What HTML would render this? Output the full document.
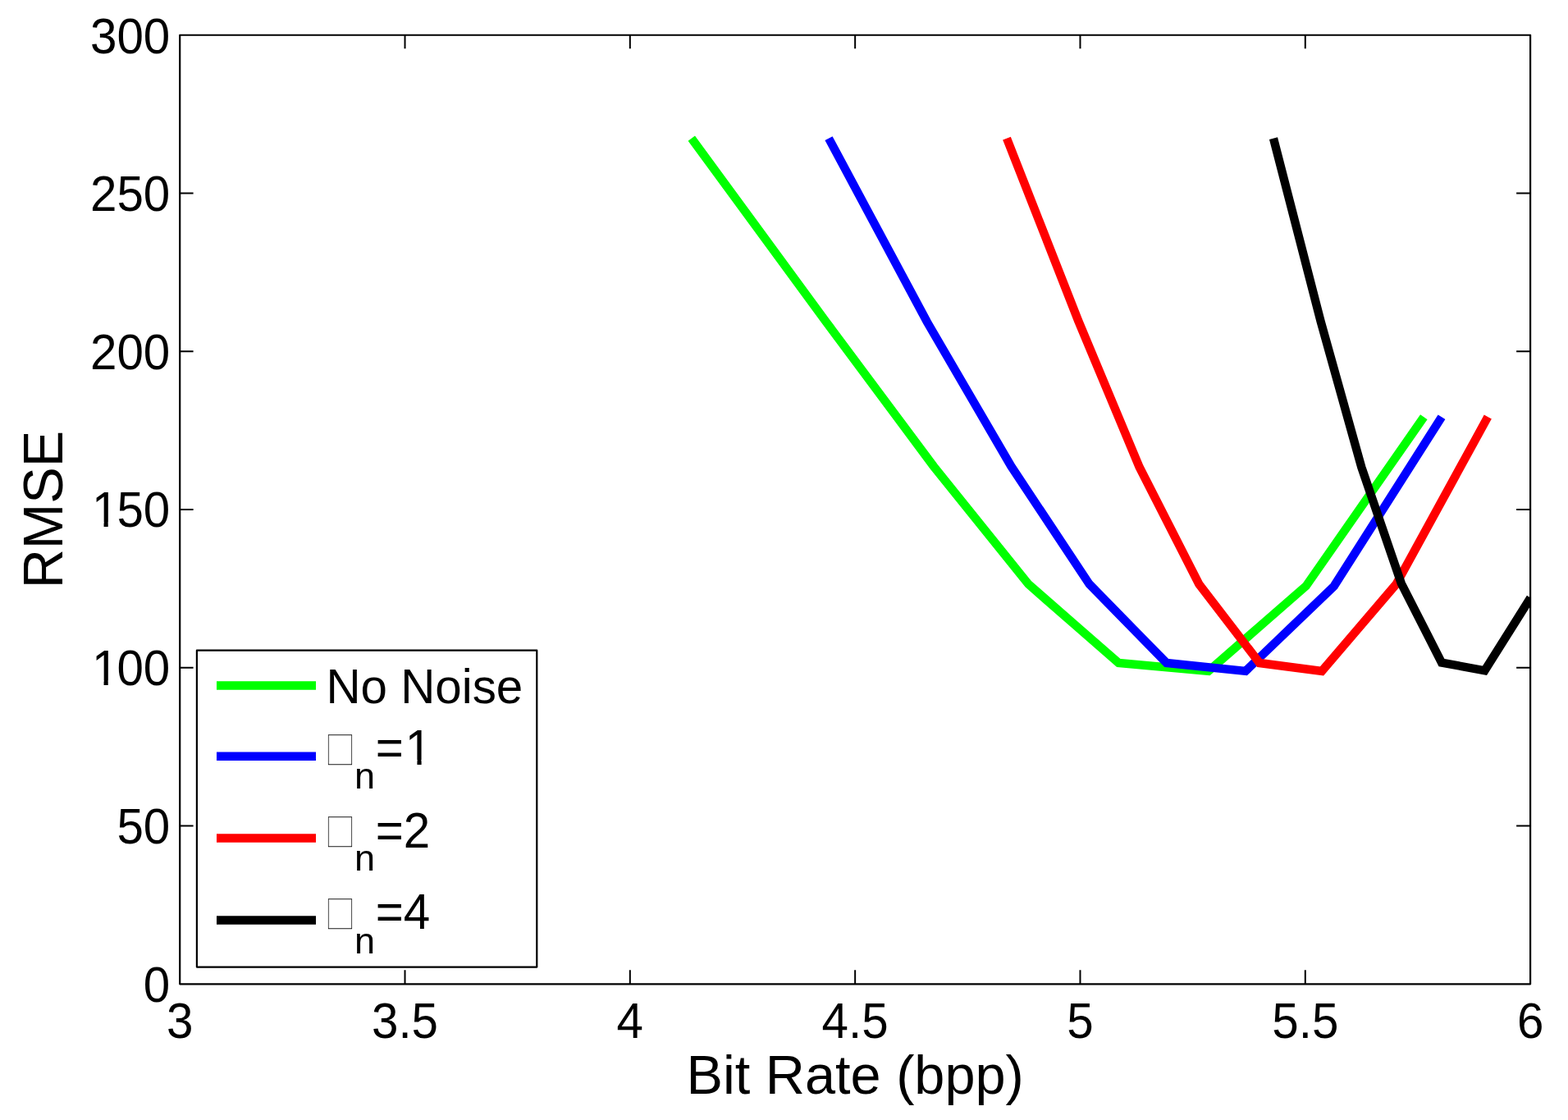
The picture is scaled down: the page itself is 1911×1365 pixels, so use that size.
<!DOCTYPE html>
<html lang="en"><head><meta charset="utf-8"><title>RMSE vs Bit Rate</title>
<style>html,body{margin:0;padding:0;background:#fff;overflow:hidden}svg{display:block}text{font-family:"Liberation Sans",sans-serif;fill:#000}.tk{font-size:58.33px}.lb{font-size:66.67px}.sub{font-size:45.00px}</style></head><body>
<svg width="1911" height="1365" viewBox="0 0 1911 1365">
<rect x="0" y="0" width="1911" height="1365" fill="#fff"/>
<defs><clipPath id="ax"><rect x="219.20" y="42.75" width="1645.90" height="1156.55"/></clipPath></defs>
<g clip-path="url(#ax)" fill="none" stroke-width="10.40" stroke-linejoin="miter" stroke-miterlimit="10" stroke-linecap="butt">
<polyline stroke="#00ff00" points="842.8,168.6 1006.6,392.0 1137.8,568.2 1253.4,712.0 1363.3,808.0 1472.8,817.9 1591.8,714.1 1735.3,508.2"/>
<polyline stroke="#0000ff" points="1010.0,168.6 1129.8,392.3 1232.3,568.2 1327.7,712.0 1421.7,808.0 1518.0,817.9 1625.8,714.4 1757.0,508.2"/>
<polyline stroke="#ff0000" points="1227.0,168.6 1314.2,391.0 1388.6,569.2 1461.3,711.9 1535.0,808.0 1611.0,817.9 1701.6,712.0 1813.3,508.1"/>
<polyline stroke="#000000" points="1552.0,168.6 1609.7,392.0 1659.3,569.5 1707.8,711.0 1757.0,807.5 1809.5,817.3 1865.3,728.6"/>
</g>
<g stroke="#000" stroke-width="2.20" fill="none" stroke-linecap="butt">
<path stroke-width="2.00" d="M493.52 1199.30V1182.30M493.52 42.75V59.35M767.83 1199.30V1182.30M767.83 42.75V59.35M1042.15 1199.30V1182.30M1042.15 42.75V59.35M1316.47 1199.30V1182.30M1316.47 42.75V59.35M1590.78 1199.30V1182.30M1590.78 42.75V59.35M219.20 1006.54H235.60M1865.10 1006.54H1848.10M219.20 813.78H235.60M1865.10 813.78H1848.10M219.20 621.02H235.60M1865.10 621.02H1848.10M219.20 428.27H235.60M1865.10 428.27H1848.10M219.20 235.51H235.60M1865.10 235.51H1848.10"/>
<rect x="219.20" y="42.75" width="1645.90" height="1156.55" stroke-linejoin="round"/>
</g>
<g class="tk" text-anchor="end">
<text class="tk" transform="translate(207.30 1220.95) scale(1.0000 1.0400)">0</text>
<text class="tk" transform="translate(207.30 1027.95) scale(1.0000 1.0400)">50</text>
<text class="tk" text-anchor="start" transform="translate(0 834.95) scale(1 1.0400)" x="111.89 142.42 174.86">100</text>
<text class="tk" text-anchor="start" transform="translate(0 641.95) scale(1 1.0400)" x="111.89 142.42 174.86">150</text>
<text class="tk" transform="translate(207.30 449.95) scale(1.0000 1.0400)">200</text>
<text class="tk" transform="translate(207.30 256.95) scale(1.0000 1.0400)">250</text>
<text class="tk" transform="translate(207.30 65.00) scale(1.0000 1.0400)">300</text>
</g>
<g class="tk" text-anchor="middle">
<text class="tk" transform="translate(219.20 1265.00) scale(1.0000 1.0400)">3</text>
<text class="tk" transform="translate(493.52 1265.00) scale(1.0000 1.0400)">3.5</text>
<text class="tk" transform="translate(767.83 1265.00) scale(1.0000 1.0400)">4</text>
<text class="tk" transform="translate(1042.15 1265.00) scale(1.0000 1.0400)">4.5</text>
<text class="tk" transform="translate(1316.47 1265.00) scale(1.0000 1.0400)">5</text>
<text class="tk" transform="translate(1590.78 1265.00) scale(1.0000 1.0400)">5.5</text>
<text class="tk" transform="translate(1865.10 1265.00) scale(1.0000 1.0400)">6</text>
</g>
<text class="lb" text-anchor="middle" x="1042.15" y="1333.40">Bit Rate (bpp)</text>
<text class="lb" text-anchor="middle" transform="translate(76.10 621.02) rotate(-90) scale(1 1.0400)">RMSE</text>
<rect x="239.90" y="792.70" width="414.40" height="385.90" fill="#fff" stroke="#000" stroke-width="2.20" stroke-linejoin="round"/>
<line x1="264.0" y1="835.5" x2="385.0" y2="835.5" stroke="#00ff00" stroke-width="10.40"/>
<line x1="264.0" y1="921.7" x2="385.0" y2="921.7" stroke="#0000ff" stroke-width="10.40"/>
<line x1="264.0" y1="1021.5" x2="385.0" y2="1021.5" stroke="#ff0000" stroke-width="10.40"/>
<line x1="264.0" y1="1121.5" x2="385.0" y2="1121.5" stroke="#000000" stroke-width="10.40"/>
<text class="tk" transform="translate(397.40 856.60) scale(1.0000 1.0300)">No Noise</text>
<text transform="translate(399.22 932.87) scale(0.5077 0.6428)" font-size="100" stroke="#fff" stroke-width="2.10">□</text>
<text class="sub" x="431.90" y="961.10">n</text>
<text class="tk" text-anchor="start" transform="translate(0 931.60) scale(1 1.0400)" x="457.80 493.77">=1</text>
<text transform="translate(399.22 1032.67) scale(0.5077 0.6428)" font-size="100" stroke="#fff" stroke-width="2.10">□</text>
<text class="sub" x="431.90" y="1060.90">n</text>
<text class="tk" transform="translate(457.80 1032.50) scale(1.0000 1.0400)">=2</text>
<text transform="translate(399.22 1132.97) scale(0.5077 0.6428)" font-size="100" stroke="#fff" stroke-width="2.10">□</text>
<text class="sub" x="431.90" y="1161.80">n</text>
<text class="tk" transform="translate(457.80 1132.30) scale(1.0000 1.0400)">=4</text>
<g fill="#fff"><rect x="115.33" y="829.42" width="11.22" height="6.53"/><rect x="131.71" y="829.42" width="10.77" height="6.53"/><rect x="115.33" y="636.42" width="11.22" height="6.53"/><rect x="131.71" y="636.42" width="10.77" height="6.53"/><rect x="497.22" y="926.07" width="11.22" height="6.53"/><rect x="513.60" y="926.07" width="10.77" height="6.53"/></g>
</svg></body></html>
